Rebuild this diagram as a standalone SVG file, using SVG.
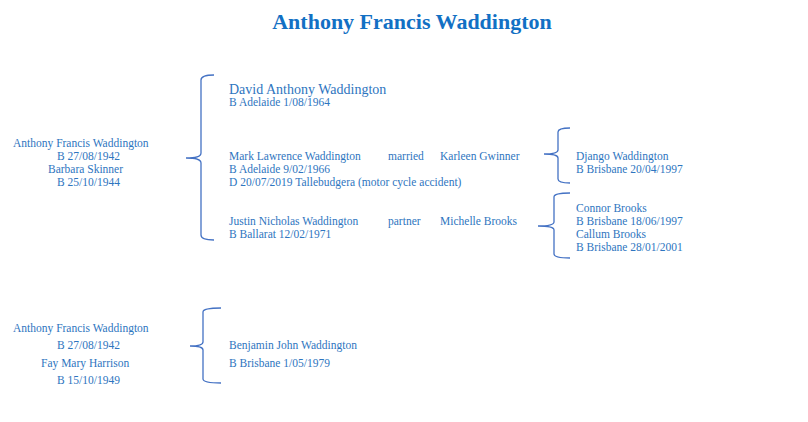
<svg xmlns="http://www.w3.org/2000/svg" width="808" height="422" viewBox="0 0 808 422">
<style>
text{font-family:"Liberation Serif","Times New Roman",serif;fill:#2e75c0;font-size:11.5px}
.title{font-size:22px;font-weight:bold;fill:#1270c4}
.big{font-size:14px}
.c{text-anchor:middle}
.brace{fill:none;stroke:#4472c4;stroke-width:1.3}
</style>
<rect width="808" height="422" fill="#fff"/>
<text class="title c" x="412" y="29">Anthony Francis Waddington</text>
<g id="parents1">
<text x="13" y="147">Anthony  Francis Waddington</text>
<text x="57" y="160">B 27/08/1942</text>
<text x="48" y="173">Barbara Skinner</text>
<text x="57" y="186">B 25/10/1944</text>
</g>
<g id="david">
<text class="big" x="229" y="94">David Anthony  Waddington</text>
<text x="229" y="106">B Adelaide 1/08/1964</text>
</g>
<g id="mark">
<text x="229" y="160">Mark Lawrence Waddington</text>
<text x="388" y="160">married</text>
<text x="440" y="160">Karleen Gwinner</text>
<text x="229" y="173">B Adelaide 9/02/1966</text>
<text x="229" y="186">D 20/07/2019 Tallebudgera (motor cycle accident)</text>
</g>
<g id="justin">
<text x="229" y="225">Justin Nicholas Waddington</text>
<text x="388" y="225">partner</text>
<text x="440" y="225">Michelle Brooks</text>
<text x="229" y="238">B Ballarat 12/02/1971</text>
</g>
<g id="django">
<text x="576" y="160">Django Waddington</text>
<text x="576" y="173">B Brisbane 20/04/1997</text>
</g>
<g id="brooks">
<text x="576" y="212">Connor Brooks</text>
<text x="576" y="225">B Brisbane 18/06/1997</text>
<text x="576" y="238">Callum Brooks</text>
<text x="576" y="251">B Brisbane 28/01/2001</text>
</g>
<g id="parents2">
<text x="13" y="332">Anthony  Francis Waddington</text>
<text x="57" y="349">B 27/08/1942</text>
<text x="41" y="367">Fay  Mary  Harrison</text>
<text x="57" y="384">B 15/10/1949</text>
</g>
<g id="benjamin">
<text x="229" y="349">Benjamin John Waddington</text>
<text x="229" y="367">B Brisbane 1/05/1979</text>
</g>
<g id="connectors">
<path class="brace" d="M214,75 C206,75 201,76 201,80 L201,153 C201,157 196,158 186,158 C196,158 201,159 201,163 L201,235 C201,239 206,240 214,240"/>
<path class="brace" d="M570,128 C562,128 558,129 558,132 L558,150 C558,153 553,154 544,154 C553,154 558,155 558,158 L558,179 C558,182 562,183 570,183"/>
<path class="brace" d="M570,193 C562,193 554,194 554,197 L554,222 C554,225 548,226 538,226 C548,226 554,227 554,230 L554,254 C554,257 562,258 570,258"/>
<path class="brace" d="M221,308 C213,308 203,309 203,312 L203,342 C203,345 198,346 190,346 C198,346 203,347 203,350 L203,379 C203,382 213,383 221,383"/>
</g>
</svg>
